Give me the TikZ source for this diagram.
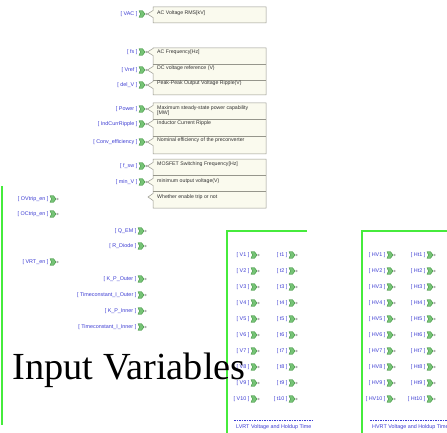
\documentclass[tikz,border=0pt]{standalone}
\usepackage{fontspec}
\setmainfont{Liberation Serif}
\newfontfamily\lblfont{Liberation Sans}
\definecolor{lblblue}{RGB}{60,60,210}
\definecolor{gline}{RGB}{70,235,60}
\definecolor{igreen}{RGB}{60,170,60}
\definecolor{cfill}{RGB}{250,250,238}
\definecolor{cborder}{RGB}{150,150,140}
\definecolor{ctext}{RGB}{50,50,50}
\tikzset{
 lbl/.style={font=\lblfont\fontsize{5.4}{6}\selectfont, text=lblblue, inner sep=0pt, anchor=east},
 ctxt/.style={font=\lblfont\fontsize{5.2}{6}\selectfont, text=ctext, inner sep=0pt, anchor=west, align=left},
 callout/.style={fill=cfill, draw=cborder, line width=0.5pt},
 divider/.style={draw=cborder, line width=0.4pt},
 arealine/.style={draw=gline, line width=1.8pt},
 iconbody/.style={fill=igreen!70, draw=igreen!80!black, line width=0.35pt},
 iconring/.style={draw=gray, line width=0.3pt},
 secline/.style={draw=lblblue, line width=0.5pt, dash pattern=on 1.5pt off 1pt},
 sectext/.style={font=\lblfont\fontsize{5.4}{6}\selectfont, text=lblblue, inner sep=0pt, anchor=west},
}
% name, icon left x, y, label
\newcommand\FromBlk[4]{%
  \node[lbl] (#1-l) at (#2-1.5,#3) {#4};
  \filldraw[iconbody] (#2,#3-3.3) -- (#2+3.5,#3-3.3) -- (#2+6,#3) -- (#2+3.5,#3+3.3) -- (#2,#3+3.3) -- (#2+1.5,#3) -- cycle;
  \draw[iconring] (#2+7.4,#3) circle (0.9pt);
  \coordinate (#1) at (#2+8.4,#3);
}
\begin{document}
\begin{tikzpicture}[x=1pt,y=-1pt]
\useasboundingbox (0,0) rectangle (447,433);

% area borders
\draw[arealine] (2,186) -- (2,425);
\draw[arealine] (307,231) -- (227,231) -- (227,433);
\draw[arealine] (447,231) -- (362,231) -- (362,433);

% top column from blocks
\FromBlk{VAC}{139}{14}{[ VAC ]}
\FromBlk{fs}{139}{52}{[ fs ]}
\FromBlk{Vref}{139}{70}{[ Vref ]}
\FromBlk{delV}{139}{85}{[ del\_V ]}
\FromBlk{Power}{139}{109}{[ Power ]}
\FromBlk{Ripple}{139}{124}{[ IndCurrRipple ]}
\FromBlk{Eff}{139}{142}{[ Conv\_efficiency ]}
\FromBlk{fsw}{139}{166}{[ f\_sw ]}
\FromBlk{minV}{139}{182}{[ min\_V ]}
\coordinate (trip) at (148,197);

% callouts
\path[callout] (153,7) -- (266,7) -- (266,23) -- (153,23) -- (153,17.5) -- (VAC) -- (153,10.5) -- cycle;
\node[ctxt] (c1) at (157,13) {AC Voltage RMS[kV]};

\path[callout] (153,48) -- (266,48) -- (266,95) -- (153,95) -- (153,88.5) -- (delV) -- (153,81.5)
  -- (153,73.5) -- (Vref) -- (153,66.5) -- (153,55.5) -- (fs) -- (153,48.5) -- cycle;
\draw[divider] (153,64) -- (266,64);
\draw[divider] (153,80) -- (266,80);
\node[ctxt] (c2) at (157,52) {AC Frequency[Hz]};
\node[ctxt] (c3) at (157,68) {DC voltage reference (V)};
\node[ctxt] (c4) at (157,83.5) {Peak-Peak Output Voltage Ripple(V)};

\path[callout] (153,103) -- (266,103) -- (266,154) -- (153,154) -- (153,145.5) -- (Eff) -- (153,138.5)
  -- (153,127.5) -- (Ripple) -- (153,120.5) -- (153,112.5) -- (Power) -- (153,105.5) -- cycle;
\draw[divider] (153,119) -- (266,119);
\draw[divider] (153,136) -- (266,136);
\node[ctxt, anchor=north west] (c5) at (157,105.5) {Maximum steady-state power capability\\[-0.6pt][MW]};
\node[ctxt] (c6) at (157,123) {Inductor Current Ripple};
\node[ctxt] (c7) at (157,140) {Nominal efficiency of the preconverter};

\path[callout] (153,159) -- (266,159) -- (266,208) -- (153,208) -- (153,200.5) -- (trip) -- (153,193.5)
  -- (153,185.5) -- (minV) -- (153,178.5) -- (153,169.5) -- (fsw) -- (153,162.5) -- cycle;
\draw[divider] (153,175) -- (266,175);
\draw[divider] (153,191) -- (266,191);
\node[ctxt] (c8) at (157,164.5) {MOSFET Switching Frequency[Hz]};
\node[ctxt] (c9) at (157,181) {minimum output voltage(V)};
\node[ctxt] (c10) at (157,197) {Whether enable trip or not};

% left area
\FromBlk{OV}{50}{199}{[ OVtrip\_en ]}
\FromBlk{OC}{50}{214}{[ OCtrip\_en ]}
\FromBlk{QEM}{138}{231}{[ Q\_EM ]}
\FromBlk{RD}{138}{246}{[ R\_Diode ]}
\FromBlk{VRT}{50}{262}{[ VRT\_en ]}
\FromBlk{KPO}{138}{279}{[ K\_P\_Outer ]}
\FromBlk{TIO}{138}{295}{[ Timeconstant\_I\_Outer ]}
\FromBlk{KPI}{138}{311}{[ K\_P\_Inner ]}
\FromBlk{TII}{138}{327}{[ Timeconstant\_I\_Inner ]}

% LVRT and HVRT areas
\foreach \i [evaluate=\i as \yy using {255+16*(\i-1)}] in {1,...,10} {
  \FromBlk{V\i}{251}{\yy}{[ V\i\ ]}
  \FromBlk{t\i}{289}{\yy}{[ t\i\ ]}
  \FromBlk{HV\i}{387}{\yy}{[ HV\i\ ]}
  \FromBlk{Ht\i}{427}{\yy}{[ Ht\i\ ]}
}
\draw[secline] (234,420) -- (313,420);
\node[sectext] (lvrt) at (236,427) {LVRT Voltage and Holdup Time};
\draw[secline] (370,420) -- (447,420);
\node[sectext] (hvrt) at (372,427) {HVRT Voltage and Holdup Time};

% title
\node[anchor=base west, inner sep=0pt, font=\fontsize{38.3}{40}\selectfont] (title) at (12.5,379) {Input Variables};
\end{tikzpicture}
\end{document}
